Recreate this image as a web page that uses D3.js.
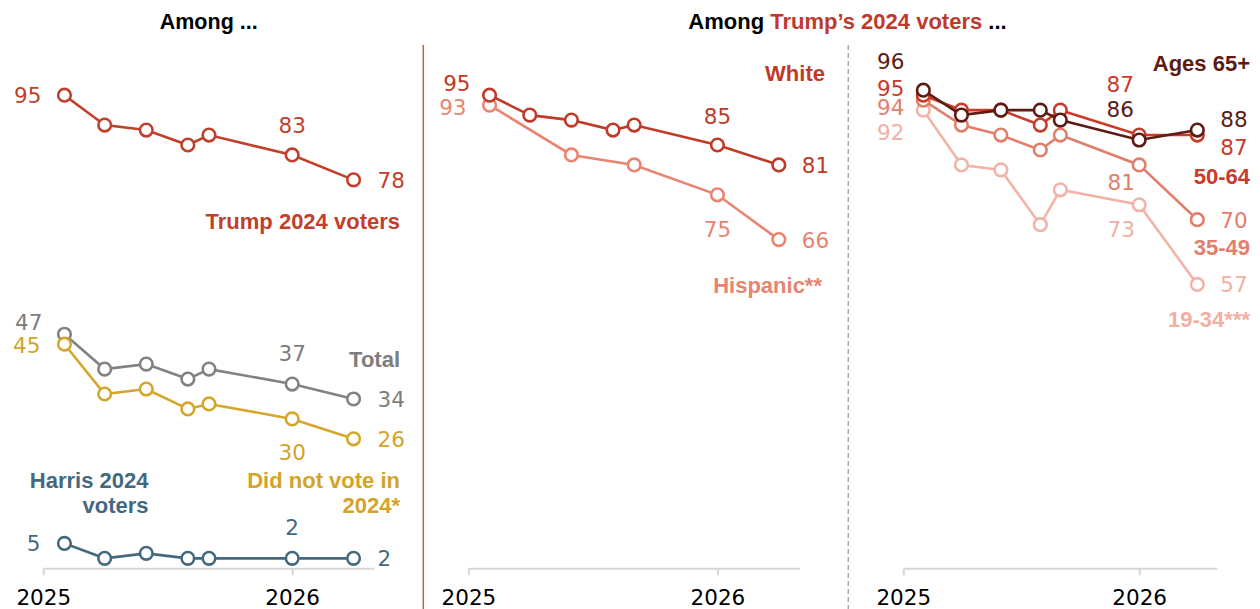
<!DOCTYPE html>
<html><head><meta charset="utf-8">
<script src="https://cdn.jsdelivr.net/npm/d3@7"></script>
<style>
body{margin:0;background:#fff}
svg{display:block}
</style>
</head><body>
<svg id="c" width="1260" height="609"></svg>
<script>
// ---------- data ----------
const surveyDates = ["2025-02","2025-04","2025-06","2025-08","2025-09","2026-01","2026-04"];
const tickYears = ["2025","2026"];
// Among ... (left panel)
const trumpVoters   = [95, 89, 88, 85, 87, 83, 78];
const totalAdults   = [47, 40, 41, 38, 40, 37, 34];
const didNotVote    = [45, 35, 36, 32, 33, 30, 26];
const harrisVoters  = [5, 2, 3, 2, 2, 2, 2];
// Among Trump's 2024 voters ... by race
const whiteTrump    = [95, 91, 90, 88, 89, 85, 81];
const hispanicTrump = [93, null, 83, null, 81, 75, 66];
// Among Trump's 2024 voters ... by age
const age65plus = [96, 91, 92, 92, 90, 86, 88];
const age50to64 = [95, 92, 92, 89, 92, 87, 87];
const age35to49 = [94, 89, 87, 84, 87, 81, 70];
const age19to34 = [92, 81, 80, 69, 76, 73, 57];

// ---------- setup ----------
const svg = d3.select("#c");
const numFont = "'DejaVu Sans',Verdana,sans-serif";
const boldFont = "'Liberation Sans',Arial,sans-serif";
const parse = d3.timeParse("%Y-%m");
const dates = surveyDates.map(parse);
const xDomain = [parse("2025-01"), parse("2026-05")];
const y = d3.scaleLinear().domain([0, 100]).range([568.3, 70.3]);

const panels = [
  {x: d3.scaleTime().domain(xDomain).range([43.3, 374])},
  {x: d3.scaleTime().domain(xDomain).range([468.4, 799.3])},
  {x: d3.scaleTime().domain(xDomain).range([903.3, 1216.7])}
];

// axes
panels.forEach(p => {
  const ax = d3.axisBottom(p.x)
    .tickValues(tickYears.map(d3.timeParse("%Y")))
    .tickFormat(d3.timeFormat("%Y"))
    .tickSize(7).tickSizeOuter(0).tickPadding(14);
  const g = svg.append("g").attr("transform", `translate(0,${y(0)})`).call(ax);
  g.select(".domain").attr("stroke", "#d6d6d6").attr("stroke-width", 2);
  g.selectAll(".tick line").attr("stroke", "#d6d6d6").attr("stroke-width", 2);
  g.selectAll(".tick text").attr("fill", "#000")
    .style("font-size", "21.5px").style("font-family", numFont);
});

// dividers
svg.append("line").attr("x1", 423.3).attr("x2", 423.3).attr("y1", 45).attr("y2", 609)
  .attr("stroke", "#c0672f").attr("stroke-width", 1.5);
svg.append("line").attr("x1", 848.3).attr("x2", 848.3).attr("y1", 45).attr("y2", 609)
  .attr("stroke", "#a8a8a8").attr("stroke-width", 1.5).attr("stroke-dasharray", "5,3");

// titles
svg.append("text").attr("x", 208.7).attr("y", 28.5).attr("text-anchor", "middle")
  .style("font-family", boldFont).style("font-size", "21.5px").style("font-weight", "bold")
  .attr("fill", "#000").text("Among ...");
const t2 = svg.append("text").attr("x", 847.5).attr("y", 28.5).attr("text-anchor", "middle")
  .style("font-family", boldFont).style("font-size", "22px").style("font-weight", "bold")
  .attr("fill", "#000");
t2.append("tspan").text("Among ");
t2.append("tspan").attr("fill", "#c0392b").text("Trump\u2019s 2024 voters");
t2.append("tspan").text(" ...");

// ---------- series ----------
// labels: [index, dx, dy(center offset), anchor]
const series = [
  {p:0, v: totalAdults, c:"#828282", tc:"#7d7d7d", labels:[[0,-22,-12,"end"],[5,0,-31,"middle"],[6,24,0,"start"]]},
  {p:0, v: didNotVote, c:"#d4a72c", tc:"#d2a42a", labels:[[0,-24,1,"end"],[5,0,33,"middle"],[6,24,0,"start"]]},
  {p:0, v: harrisVoters, c:"#44697f", tc:"#44697f", labels:[[0,-24,0,"end"],[5,0,-31,"middle"],[6,24,0,"start"]]},
  {p:0, v: trumpVoters, c:"#c2402b", tc:"#c2402b", labels:[[0,-23,0,"end"],[5,0,-30,"middle"],[6,24,0,"start"]]},
  {p:1, v: hispanicTrump, c:"#e8846f", tc:"#e8846f", labels:[[0,-23,2,"end"],[5,0,34,"middle"],[6,23,0,"start"]]},
  {p:1, v: whiteTrump, c:"#bf3a27", tc:"#bf3a27", labels:[[0,-19,-12,"end"],[5,0,-29,"middle"],[6,23,0,"start"]]},
  {p:2, v: age19to34, c:"#f2b4a8", tc:"#f0b0a4", labels:[[0,-19,22,"end"],[5,-18,24,"middle"],[6,23,0,"start"]]},
  {p:2, v: age35to49, c:"#e27e6c", tc:"#e27e6c", labels:[[0,-19,7,"end"],[5,-18,17,"middle"],[6,23,0,"start"]]},
  {p:2, v: age50to64, c:"#c93b2a", tc:"#c93b2a", labels:[[0,-19,-7,"end"],[5,-19,-51,"middle"],[6,23,12,"start"]]},
  {p:2, v: age65plus, c:"#5c1b13", tc:"#5c1b13", labels:[[0,-19,-29,"end"],[5,-19,-31,"middle"],[6,23,-11,"start"]]}
];

series.forEach(s => {
  const x = panels[s.p].x;
  const pts = dates.map((d, i) => ({d, v: s.v[i]})).filter(o => o.v != null);
  const g = svg.append("g");
  g.append("path").datum(pts)
    .attr("d", d3.line().x(o => x(o.d)).y(o => y(o.v)))
    .attr("fill", "none").attr("stroke", s.c).attr("stroke-width", 2.6);
  g.selectAll("circle").data(pts).join("circle")
    .attr("cx", o => x(o.d)).attr("cy", o => y(o.v)).attr("r", 6.3)
    .attr("fill", "#fff").attr("stroke", s.c).attr("stroke-width", 2.6);
  s.labels.forEach(([i, dx, dy, anchor]) => {
    svg.append("text")
      .attr("x", x(dates[i]) + dx).attr("y", y(s.v[i]) + dy + 8)
      .attr("text-anchor", anchor).attr("fill", s.tc)
      .style("font-family", numFont).style("font-size", "21.5px")
      .text(s.v[i]);
  });
});

// ---------- series names ----------
const names = [
  {lines:["Trump 2024 voters"], x:400, y:229, c:"#c2402b"},
  {lines:["Total"], x:400, y:367, c:"#7d7d7d"},
  {lines:["Did not vote in","2024*"], x:400, y:488, c:"#d2a42a"},
  {lines:["Harris 2024","voters"], x:148.5, y:488, c:"#44697f"},
  {lines:["White"], x:825, y:81, c:"#bf3a27"},
  {lines:["Hispanic**"], x:822, y:293, c:"#e8846f"},
  {lines:["Ages 65+"], x:1250, y:70.5, c:"#5c1b13"},
  {lines:["50-64"], x:1250, y:183.5, c:"#c93b2a"},
  {lines:["35-49"], x:1250, y:255, c:"#e27e6c"},
  {lines:["19-34***"], x:1250, y:326.5, c:"#f0b0a4"}
];
names.forEach(n => {
  n.lines.forEach((l, k) => {
    svg.append("text").attr("x", n.x).attr("y", n.y + k * 25)
      .attr("text-anchor", "end").attr("fill", n.c)
      .style("font-family", boldFont).style("font-size", "22px").style("font-weight", "bold")
      .text(l);
  });
});
</script>
</body></html>
